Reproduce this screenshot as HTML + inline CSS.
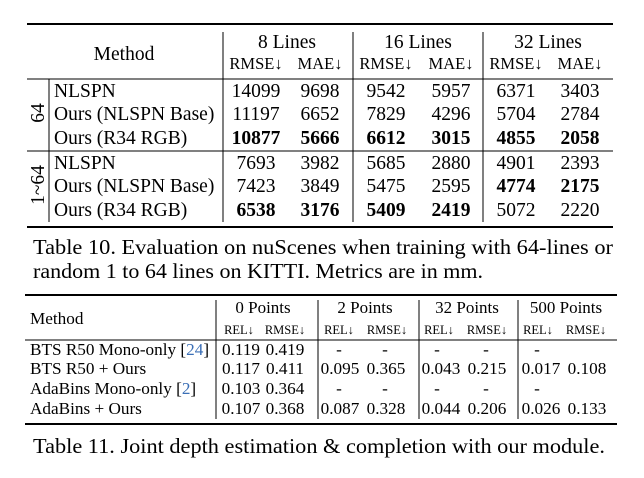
<!DOCTYPE html>
<html><head><meta charset="utf-8"><style>
body{margin:0;background:#fff}
svg text{font-family:"Liberation Serif",serif;fill:#000}
.b{font-weight:bold}
</style></head><body>
<svg width="644" height="473" viewBox="0 0 644 473" xmlns="http://www.w3.org/2000/svg">
<g stroke="#000">
<line x1="27" y1="24" x2="613" y2="24" stroke-width="2"/>
<line x1="27" y1="79" x2="613" y2="79" stroke-width="1"/>
<line x1="27" y1="151" x2="613" y2="151" stroke-width="1"/>
<line x1="27" y1="227" x2="613" y2="227" stroke-width="2"/>
<line x1="223" y1="32" x2="223" y2="222" stroke-width="1"/>
<line x1="353" y1="32" x2="353" y2="222" stroke-width="1"/>
<line x1="483" y1="32" x2="483" y2="222" stroke-width="1"/>
<line x1="49" y1="79" x2="49" y2="222" stroke-width="1"/>
</g>
<g font-size="19.5" text-anchor="middle">
<text x="124" y="60">Method</text>
<text x="287" y="48">8 Lines</text>
<text x="418" y="48">16 Lines</text>
<text x="548" y="48">32 Lines</text>
</g>
<g font-size="16.5" text-anchor="middle">
<text x="256" y="69">RMSE↓</text><text x="320" y="69">MAE↓</text>
<text x="386" y="69">RMSE↓</text><text x="451" y="69">MAE↓</text>
<text x="516" y="69">RMSE↓</text><text x="580" y="69">MAE↓</text>
</g>
<g font-size="19.5">
<text x="54" y="97">NLSPN</text>
<text x="54" y="120">Ours (NLSPN Base)</text>
<text x="54" y="144">Ours (R34 RGB)</text>
<text x="54" y="169">NLSPN</text>
<text x="54" y="192">Ours (NLSPN Base)</text>
<text x="54" y="216">Ours (R34 RGB)</text>
<text transform="translate(44,113) rotate(-90)" text-anchor="middle">64</text>
<text transform="translate(44,185) rotate(-90)" text-anchor="middle">1~64</text>
</g>
<g font-size="19.5" text-anchor="middle">
<text x="256" y="97">14099</text><text x="320" y="97">9698</text><text x="386" y="97">9542</text><text x="451" y="97">5957</text><text x="516" y="97">6371</text><text x="580" y="97">3403</text>
<text x="256" y="120">11197</text><text x="320" y="120">6652</text><text x="386" y="120">7829</text><text x="451" y="120">4296</text><text x="516" y="120">5704</text><text x="580" y="120">2784</text>
<text x="256" y="144" class="b">10877</text><text x="320" y="144" class="b">5666</text><text x="386" y="144" class="b">6612</text><text x="451" y="144" class="b">3015</text><text x="516" y="144" class="b">4855</text><text x="580" y="144" class="b">2058</text>
<text x="256" y="169">7693</text><text x="320" y="169">3982</text><text x="386" y="169">5685</text><text x="451" y="169">2880</text><text x="516" y="169">4901</text><text x="580" y="169">2393</text>
<text x="256" y="192">7423</text><text x="320" y="192">3849</text><text x="386" y="192">5475</text><text x="451" y="192">2595</text><text x="516" y="192" class="b">4774</text><text x="580" y="192" class="b">2175</text>
<text x="256" y="216" class="b">6538</text><text x="320" y="216" class="b">3176</text><text x="386" y="216" class="b">5409</text><text x="451" y="216" class="b">2419</text><text x="516" y="216">5072</text><text x="580" y="216">2220</text>
</g>
<g font-size="21">
<text x="33" y="254" textLength="580" lengthAdjust="spacingAndGlyphs">Table 10. Evaluation on nuScenes when training with 64-lines or</text>
<text x="33" y="278" textLength="450" lengthAdjust="spacingAndGlyphs">random 1 to 64 lines on KITTI. Metrics are in mm.</text>
<text x="33" y="453" textLength="572" lengthAdjust="spacingAndGlyphs">Table 11. Joint depth estimation &amp; completion with our module.</text>
</g>
<g stroke="#000">
<line x1="25" y1="295" x2="617" y2="295" stroke-width="2"/>
<line x1="25" y1="340" x2="617" y2="340" stroke-width="1"/>
<line x1="25" y1="424" x2="617" y2="424" stroke-width="2"/>
<line x1="216" y1="300" x2="216" y2="419" stroke-width="1"/>
<line x1="318" y1="300" x2="318" y2="419" stroke-width="1"/>
<line x1="419" y1="300" x2="419" y2="419" stroke-width="1"/>
<line x1="518" y1="300" x2="518" y2="419" stroke-width="1"/>
</g>
<g font-size="17" text-anchor="middle">
<text x="263" y="313">0 Points</text><text x="365" y="313">2 Points</text><text x="467" y="313">32 Points</text><text x="566" y="313">500 Points</text>
</g>
<g font-size="12.5" text-anchor="middle">
<text x="239" y="334">REL↓</text><text x="285" y="334">RMSE↓</text>
<text x="339" y="334">REL↓</text><text x="387" y="334">RMSE↓</text>
<text x="439" y="334">REL↓</text><text x="487" y="334">RMSE↓</text>
<text x="538" y="334">REL↓</text><text x="586" y="334">RMSE↓</text>
</g>
<g font-size="17.2">
<text x="30" y="324">Method</text>
<text x="30" y="355">BTS R50 Mono-only [<tspan style="fill:#3b6fb6">24</tspan>]</text>
<text x="30" y="374">BTS R50 + Ours</text>
<text x="30" y="394">AdaBins Mono-only [<tspan style="fill:#3b6fb6">2</tspan>]</text>
<text x="30" y="414">AdaBins + Ours</text>
</g>
<g font-size="17.2" text-anchor="middle">
<text x="241" y="355">0.119</text><text x="285" y="355">0.419</text><text x="339" y="355">-</text><text x="385" y="355">-</text><text x="437" y="355">-</text><text x="486" y="355">-</text><text x="537" y="355">-</text>
<text x="241" y="374">0.117</text><text x="285" y="374">0.411</text><text x="340" y="374">0.095</text><text x="386" y="374">0.365</text><text x="441" y="374">0.043</text><text x="487" y="374">0.215</text><text x="541" y="374">0.017</text><text x="587" y="374">0.108</text>
<text x="241" y="394">0.103</text><text x="285" y="394">0.364</text><text x="339" y="394">-</text><text x="385" y="394">-</text><text x="437" y="394">-</text><text x="486" y="394">-</text><text x="537" y="394">-</text>
<text x="241" y="414">0.107</text><text x="285" y="414">0.368</text><text x="340" y="414">0.087</text><text x="386" y="414">0.328</text><text x="441" y="414">0.044</text><text x="487" y="414">0.206</text><text x="541" y="414">0.026</text><text x="587" y="414">0.133</text>
</g>
</svg>
</body></html>
